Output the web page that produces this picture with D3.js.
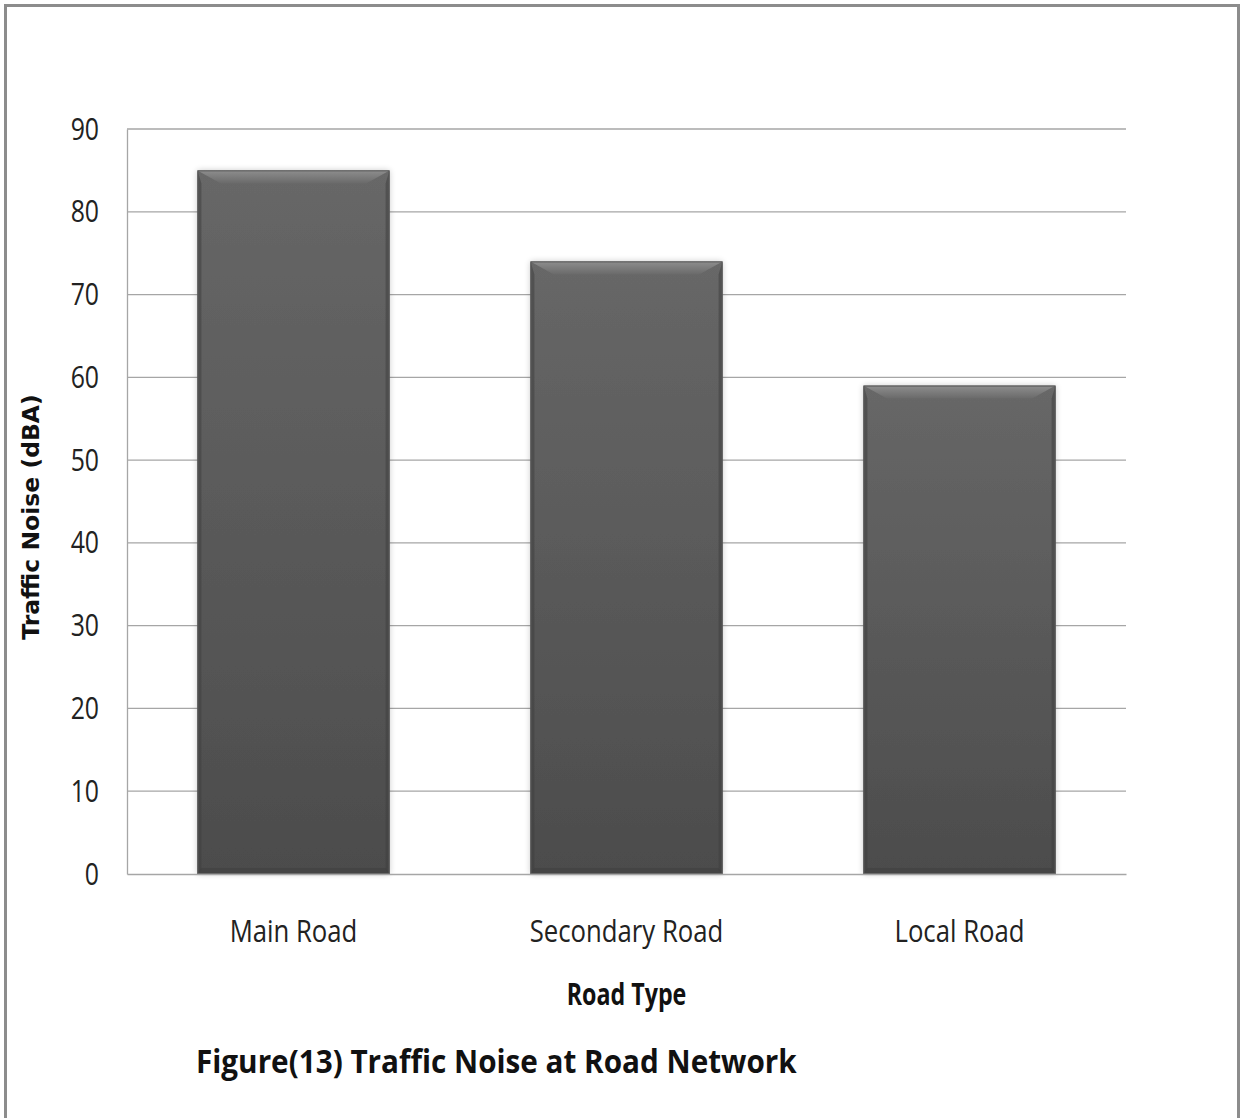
<!DOCTYPE html>
<html><head><meta charset="utf-8">
<script src="https://cdn.jsdelivr.net/npm/d3@7"></script>
<style>
html,body{margin:0;padding:0;background:#fff;}
svg{display:block;}
</style></head>
<body>
<script>
const categories = ["Main Road", "Secondary Road", "Local Road"];
const values = [85, 74, 59];
const yTicks = [0, 10, 20, 30, 40, 50, 60, 70, 80, 90];
const yTitle = "Traffic Noise (dBA)";
const xTitle = "Road Type";
const caption = "Figure(13) Traffic Noise at Road Network";

const W = 1241, H = 1118;
const M = {left: 127, right: 1126, top: 129, bottom: 874};
const font = "'Open Sans','Noto Sans',sans-serif";

const svg = d3.select("body").append("svg").attr("width", W).attr("height", H);
const defs = svg.append("defs");
const g1 = defs.append("linearGradient").attr("id","barg").attr("x1",0).attr("y1",0).attr("x2",0).attr("y2",1);
g1.append("stop").attr("offset","0%").attr("stop-color","#676767");
g1.append("stop").attr("offset","100%").attr("stop-color","#4c4c4c");
const g2 = defs.append("linearGradient").attr("id","topg").attr("x1",0).attr("y1",0).attr("x2",0).attr("y2",1);
g2.append("stop").attr("offset","0%").attr("stop-color","#8e8e8e");
g2.append("stop").attr("offset","100%").attr("stop-color","#6a6a6a");
const f = defs.append("filter").attr("id","sh").attr("x","-10%").attr("y","-10%").attr("width","120%").attr("height","120%");
f.append("feGaussianBlur").attr("in","SourceAlpha").attr("stdDeviation",3);
f.append("feComponentTransfer").append("feFuncA").attr("type","linear").attr("slope",0.22);
const fm = f.append("feMerge"); fm.append("feMergeNode"); fm.append("feMergeNode").attr("in","SourceGraphic");

// outer border
svg.append("rect").attr("x",5.5).attr("y",5.5).attr("width",1233).attr("height",1130)
  .attr("fill","none").attr("stroke","#8c8c8c").attr("stroke-width",3);

const x = d3.scaleBand().domain(categories).range([M.left, M.right]).paddingInner(0.423).paddingOuter(0.2115);
const y = d3.scaleLinear().domain([0, 90]).range([M.bottom, M.top]);

function label(px, py, txt, o){
  const gg = svg.append("g").attr("transform", `translate(${px},${py}) scale(${o.sx},1)`);
  return gg.append("text").attr("text-anchor", o.anchor || "middle")
    .attr("font-family", o.family || font).attr("font-weight", o.weight || "normal")
    .attr("font-size", o.size).attr("fill", o.fill || "#111").text(txt);
}

// gridlines
svg.append("g").selectAll("line").data(yTicks.filter(d=>d>0)).join("line")
  .attr("x1", M.left).attr("x2", M.right).attr("y1", d=>y(d)).attr("y2", d=>y(d))
  .attr("stroke","#a6a6a6").attr("stroke-width",1.3);

// y axis
const ya = svg.append("g").attr("transform",`translate(${M.left},0)`)
  .call(d3.axisLeft(y).tickValues(yTicks).tickSize(0));
ya.select(".domain").attr("stroke","#a6a6a6").attr("stroke-width",1.3);
ya.selectAll("text").attr("x",0).attr("dy",null)
  .attr("transform","translate(-28,10) scale(0.8,1)")
  .attr("font-family",font).attr("font-size",31).attr("fill","#222");

// bars
const bars = svg.append("g").selectAll("g").data(categories).join("g");
bars.each(function(c, i){
  const gx = d3.select(this);
  const x0 = x(c), w = x.bandwidth(), y0 = y(values[i]), h = y(0) - y(values[i]);
  const b = 13, s = 4;
  gx.append("rect").attr("x",x0).attr("y",y0).attr("width",w).attr("height",h)
    .attr("fill","url(#barg)").attr("filter","url(#sh)");
  gx.append("path").attr("d",`M${x0},${y0}L${x0+w},${y0}L${x0+w-b*1.8},${y0+b}L${x0+b*1.8},${y0+b}Z`)
    .attr("fill","url(#topg)");
  gx.append("path").attr("d",`M${x0},${y0}L${x0+s},${y0+b}L${x0+s},${y0+h-s}L${x0},${y0+h}Z`).attr("fill","#3f3f3f").attr("opacity",0.55);
  gx.append("path").attr("d",`M${x0+w},${y0}L${x0+w-s},${y0+b}L${x0+w-s},${y0+h-s}L${x0+w},${y0+h}Z`).attr("fill","#3f3f3f").attr("opacity",0.55);
  gx.append("path").attr("d",`M${x0},${y0+h}L${x0+w},${y0+h}L${x0+w-s},${y0+h-6}L${x0+s},${y0+h-6}Z`).attr("fill","#404040").attr("opacity",0.6);
  gx.append("rect").attr("x",x0+0.5).attr("y",y0+0.5).attr("width",w-1).attr("height",h-1)
    .attr("fill","none").attr("stroke","#5a5a5a").attr("stroke-width",1);
});

// x axis
const xa = svg.append("g").attr("transform",`translate(0,${M.bottom})`)
  .call(d3.axisBottom(x).tickSize(0));
xa.select(".domain").attr("stroke","#a6a6a6").attr("stroke-width",1.3);
xa.selectAll("text").attr("y",0).attr("dy",null)
  .attr("transform","translate(0,68) scale(0.83,1)")
  .attr("font-family",font).attr("font-size",31).attr("fill","#222");

// titles
label((M.left+M.right)/2, 1005, xTitle, {size:31, weight:"bold", sx:0.75});
svg.append("text").attr("transform",`translate(39,517) rotate(-90)`).attr("text-anchor","middle")
  .attr("font-family","'DejaVu Sans',sans-serif").attr("font-weight","bold").attr("font-size",23.5).attr("fill","#111").text(yTitle);
label(196, 1073, caption, {size:33, weight:"bold", sx:0.9, anchor:"start"});
</script>
</body></html>
